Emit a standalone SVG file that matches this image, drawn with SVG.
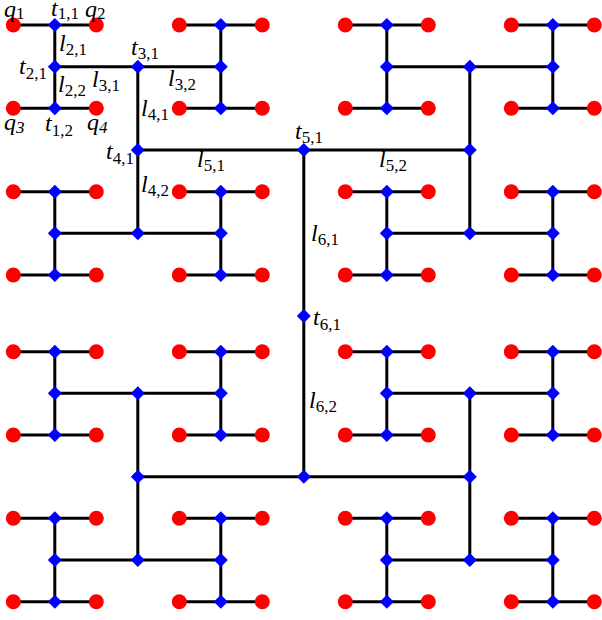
<svg xmlns="http://www.w3.org/2000/svg" xmlns:xlink="http://www.w3.org/1999/xlink" width="602" height="620" viewBox="0 0 602 620">
<style>
.w{fill:none;stroke:#000;stroke-width:3}
.m{font-family:"Liberation Serif","Times New Roman",serif;font-style:italic;font-size:24px;fill:#000}
.s{font-size:17px;font-style:normal}
.si{font-size:17px;font-style:italic}
</style>
<defs>
<circle id="dot" r="7.5" fill="#ff0000"/>
<polygon id="dia" points="0,-7 7,0 0,7 -7,0" fill="#0000ff"/>
</defs>
<rect width="602" height="620" fill="#fff"/>
<g id="connectors">
<path class="w" d="M13.3 25H96.3M179.3 25H262.3M345.3 25H428.3M511.3 25H594.3M13.3 108.3H96.3M179.3 108.3H262.3M345.3 108.3H428.3M511.3 108.3H594.3M13.3 191.7H96.3M179.3 191.7H262.3M345.3 191.7H428.3M511.3 191.7H594.3M13.3 275H96.3M179.3 275H262.3M345.3 275H428.3M511.3 275H594.3M13.3 351.7H96.3M179.3 351.7H262.3M345.3 351.7H428.3M511.3 351.7H594.3M13.3 435H96.3M179.3 435H262.3M345.3 435H428.3M511.3 435H594.3M13.3 518.3H96.3M179.3 518.3H262.3M345.3 518.3H428.3M511.3 518.3H594.3M13.3 601.7H96.3M179.3 601.7H262.3M345.3 601.7H428.3M511.3 601.7H594.3"/>
<path class="w" d="M54.8 25V108.3M220.8 25V108.3M386.8 25V108.3M552.8 25V108.3M54.8 191.7V275M220.8 191.7V275M386.8 191.7V275M552.8 191.7V275M54.8 351.7V435M220.8 351.7V435M386.8 351.7V435M552.8 351.7V435M54.8 518.3V601.7M220.8 518.3V601.7M386.8 518.3V601.7M552.8 518.3V601.7"/>
<path class="w" d="M54.8 66.7H220.8M386.8 66.7H552.8M54.8 233.3H220.8M386.8 233.3H552.8M54.8 393.3H220.8M386.8 393.3H552.8M54.8 560H220.8M386.8 560H552.8"/>
<path class="w" d="M137.8 66.7V233.3M469.8 66.7V233.3M137.8 393.3V560M469.8 393.3V560"/>
<path class="w" d="M137.8 150H469.8M137.8 476.7H469.8"/>
<path class="w" d="M303.8 150V476.7"/>
</g>
<g id="sinks">
<g id="q1"><use xlink:href="#dot" x="13.3" y="25"/></g>
<g id="q2"><use xlink:href="#dot" x="96.3" y="25"/></g>
<g id="d0_2"><use xlink:href="#dot" x="179.3" y="25"/></g>
<g id="d0_3"><use xlink:href="#dot" x="262.3" y="25"/></g>
<g id="d0_4"><use xlink:href="#dot" x="345.3" y="25"/></g>
<g id="d0_5"><use xlink:href="#dot" x="428.3" y="25"/></g>
<g id="d0_6"><use xlink:href="#dot" x="511.3" y="25"/></g>
<g id="d0_7"><use xlink:href="#dot" x="594.3" y="25"/></g>
<g id="q3"><use xlink:href="#dot" x="13.3" y="108.3"/></g>
<g id="q4"><use xlink:href="#dot" x="96.3" y="108.3"/></g>
<g id="d1_2"><use xlink:href="#dot" x="179.3" y="108.3"/></g>
<g id="d1_3"><use xlink:href="#dot" x="262.3" y="108.3"/></g>
<g id="d1_4"><use xlink:href="#dot" x="345.3" y="108.3"/></g>
<g id="d1_5"><use xlink:href="#dot" x="428.3" y="108.3"/></g>
<g id="d1_6"><use xlink:href="#dot" x="511.3" y="108.3"/></g>
<g id="d1_7"><use xlink:href="#dot" x="594.3" y="108.3"/></g>
<g id="d2_0"><use xlink:href="#dot" x="13.3" y="191.7"/></g>
<g id="d2_1"><use xlink:href="#dot" x="96.3" y="191.7"/></g>
<g id="d2_2"><use xlink:href="#dot" x="179.3" y="191.7"/></g>
<g id="d2_3"><use xlink:href="#dot" x="262.3" y="191.7"/></g>
<g id="d2_4"><use xlink:href="#dot" x="345.3" y="191.7"/></g>
<g id="d2_5"><use xlink:href="#dot" x="428.3" y="191.7"/></g>
<g id="d2_6"><use xlink:href="#dot" x="511.3" y="191.7"/></g>
<g id="d2_7"><use xlink:href="#dot" x="594.3" y="191.7"/></g>
<g id="d3_0"><use xlink:href="#dot" x="13.3" y="275"/></g>
<g id="d3_1"><use xlink:href="#dot" x="96.3" y="275"/></g>
<g id="d3_2"><use xlink:href="#dot" x="179.3" y="275"/></g>
<g id="d3_3"><use xlink:href="#dot" x="262.3" y="275"/></g>
<g id="d3_4"><use xlink:href="#dot" x="345.3" y="275"/></g>
<g id="d3_5"><use xlink:href="#dot" x="428.3" y="275"/></g>
<g id="d3_6"><use xlink:href="#dot" x="511.3" y="275"/></g>
<g id="d3_7"><use xlink:href="#dot" x="594.3" y="275"/></g>
<g id="d4_0"><use xlink:href="#dot" x="13.3" y="351.7"/></g>
<g id="d4_1"><use xlink:href="#dot" x="96.3" y="351.7"/></g>
<g id="d4_2"><use xlink:href="#dot" x="179.3" y="351.7"/></g>
<g id="d4_3"><use xlink:href="#dot" x="262.3" y="351.7"/></g>
<g id="d4_4"><use xlink:href="#dot" x="345.3" y="351.7"/></g>
<g id="d4_5"><use xlink:href="#dot" x="428.3" y="351.7"/></g>
<g id="d4_6"><use xlink:href="#dot" x="511.3" y="351.7"/></g>
<g id="d4_7"><use xlink:href="#dot" x="594.3" y="351.7"/></g>
<g id="d5_0"><use xlink:href="#dot" x="13.3" y="435"/></g>
<g id="d5_1"><use xlink:href="#dot" x="96.3" y="435"/></g>
<g id="d5_2"><use xlink:href="#dot" x="179.3" y="435"/></g>
<g id="d5_3"><use xlink:href="#dot" x="262.3" y="435"/></g>
<g id="d5_4"><use xlink:href="#dot" x="345.3" y="435"/></g>
<g id="d5_5"><use xlink:href="#dot" x="428.3" y="435"/></g>
<g id="d5_6"><use xlink:href="#dot" x="511.3" y="435"/></g>
<g id="d5_7"><use xlink:href="#dot" x="594.3" y="435"/></g>
<g id="d6_0"><use xlink:href="#dot" x="13.3" y="518.3"/></g>
<g id="d6_1"><use xlink:href="#dot" x="96.3" y="518.3"/></g>
<g id="d6_2"><use xlink:href="#dot" x="179.3" y="518.3"/></g>
<g id="d6_3"><use xlink:href="#dot" x="262.3" y="518.3"/></g>
<g id="d6_4"><use xlink:href="#dot" x="345.3" y="518.3"/></g>
<g id="d6_5"><use xlink:href="#dot" x="428.3" y="518.3"/></g>
<g id="d6_6"><use xlink:href="#dot" x="511.3" y="518.3"/></g>
<g id="d6_7"><use xlink:href="#dot" x="594.3" y="518.3"/></g>
<g id="d7_0"><use xlink:href="#dot" x="13.3" y="601.7"/></g>
<g id="d7_1"><use xlink:href="#dot" x="96.3" y="601.7"/></g>
<g id="d7_2"><use xlink:href="#dot" x="179.3" y="601.7"/></g>
<g id="d7_3"><use xlink:href="#dot" x="262.3" y="601.7"/></g>
<g id="d7_4"><use xlink:href="#dot" x="345.3" y="601.7"/></g>
<g id="d7_5"><use xlink:href="#dot" x="428.3" y="601.7"/></g>
<g id="d7_6"><use xlink:href="#dot" x="511.3" y="601.7"/></g>
<g id="d7_7"><use xlink:href="#dot" x="594.3" y="601.7"/></g>
</g>
<g id="taps">
<g id="t1_1"><use xlink:href="#dia" x="54.8" y="25"/></g>
<g id="a0_1"><use xlink:href="#dia" x="220.8" y="25"/></g>
<g id="a0_2"><use xlink:href="#dia" x="386.8" y="25"/></g>
<g id="a0_3"><use xlink:href="#dia" x="552.8" y="25"/></g>
<g id="t1_2"><use xlink:href="#dia" x="54.8" y="108.3"/></g>
<g id="a1_1"><use xlink:href="#dia" x="220.8" y="108.3"/></g>
<g id="a1_2"><use xlink:href="#dia" x="386.8" y="108.3"/></g>
<g id="a1_3"><use xlink:href="#dia" x="552.8" y="108.3"/></g>
<g id="a2_0"><use xlink:href="#dia" x="54.8" y="191.7"/></g>
<g id="a2_1"><use xlink:href="#dia" x="220.8" y="191.7"/></g>
<g id="a2_2"><use xlink:href="#dia" x="386.8" y="191.7"/></g>
<g id="a2_3"><use xlink:href="#dia" x="552.8" y="191.7"/></g>
<g id="a3_0"><use xlink:href="#dia" x="54.8" y="275"/></g>
<g id="a3_1"><use xlink:href="#dia" x="220.8" y="275"/></g>
<g id="a3_2"><use xlink:href="#dia" x="386.8" y="275"/></g>
<g id="a3_3"><use xlink:href="#dia" x="552.8" y="275"/></g>
<g id="a4_0"><use xlink:href="#dia" x="54.8" y="351.7"/></g>
<g id="a4_1"><use xlink:href="#dia" x="220.8" y="351.7"/></g>
<g id="a4_2"><use xlink:href="#dia" x="386.8" y="351.7"/></g>
<g id="a4_3"><use xlink:href="#dia" x="552.8" y="351.7"/></g>
<g id="a5_0"><use xlink:href="#dia" x="54.8" y="435"/></g>
<g id="a5_1"><use xlink:href="#dia" x="220.8" y="435"/></g>
<g id="a5_2"><use xlink:href="#dia" x="386.8" y="435"/></g>
<g id="a5_3"><use xlink:href="#dia" x="552.8" y="435"/></g>
<g id="a6_0"><use xlink:href="#dia" x="54.8" y="518.3"/></g>
<g id="a6_1"><use xlink:href="#dia" x="220.8" y="518.3"/></g>
<g id="a6_2"><use xlink:href="#dia" x="386.8" y="518.3"/></g>
<g id="a6_3"><use xlink:href="#dia" x="552.8" y="518.3"/></g>
<g id="a7_0"><use xlink:href="#dia" x="54.8" y="601.7"/></g>
<g id="a7_1"><use xlink:href="#dia" x="220.8" y="601.7"/></g>
<g id="a7_2"><use xlink:href="#dia" x="386.8" y="601.7"/></g>
<g id="a7_3"><use xlink:href="#dia" x="552.8" y="601.7"/></g>
<g id="t2_1"><use xlink:href="#dia" x="54.8" y="66.7"/></g>
<g id="b0_1"><use xlink:href="#dia" x="220.8" y="66.7"/></g>
<g id="b0_2"><use xlink:href="#dia" x="386.8" y="66.7"/></g>
<g id="b0_3"><use xlink:href="#dia" x="552.8" y="66.7"/></g>
<g id="b1_0"><use xlink:href="#dia" x="54.8" y="233.3"/></g>
<g id="b1_1"><use xlink:href="#dia" x="220.8" y="233.3"/></g>
<g id="b1_2"><use xlink:href="#dia" x="386.8" y="233.3"/></g>
<g id="b1_3"><use xlink:href="#dia" x="552.8" y="233.3"/></g>
<g id="b2_0"><use xlink:href="#dia" x="54.8" y="393.3"/></g>
<g id="b2_1"><use xlink:href="#dia" x="220.8" y="393.3"/></g>
<g id="b2_2"><use xlink:href="#dia" x="386.8" y="393.3"/></g>
<g id="b2_3"><use xlink:href="#dia" x="552.8" y="393.3"/></g>
<g id="b3_0"><use xlink:href="#dia" x="54.8" y="560"/></g>
<g id="b3_1"><use xlink:href="#dia" x="220.8" y="560"/></g>
<g id="b3_2"><use xlink:href="#dia" x="386.8" y="560"/></g>
<g id="b3_3"><use xlink:href="#dia" x="552.8" y="560"/></g>
<g id="t3_1"><use xlink:href="#dia" x="137.8" y="66.7"/></g>
<g id="c0_1"><use xlink:href="#dia" x="469.8" y="66.7"/></g>
<g id="c1_0"><use xlink:href="#dia" x="137.8" y="233.3"/></g>
<g id="c1_1"><use xlink:href="#dia" x="469.8" y="233.3"/></g>
<g id="c2_0"><use xlink:href="#dia" x="137.8" y="393.3"/></g>
<g id="c2_1"><use xlink:href="#dia" x="469.8" y="393.3"/></g>
<g id="c3_0"><use xlink:href="#dia" x="137.8" y="560"/></g>
<g id="c3_1"><use xlink:href="#dia" x="469.8" y="560"/></g>
<g id="t4_1"><use xlink:href="#dia" x="137.8" y="150"/></g>
<g id="e0_1"><use xlink:href="#dia" x="469.8" y="150"/></g>
<g id="e1_0"><use xlink:href="#dia" x="137.8" y="476.7"/></g>
<g id="e1_1"><use xlink:href="#dia" x="469.8" y="476.7"/></g>
<g id="t5_1"><use xlink:href="#dia" x="303.8" y="150"/></g>
<g id="f1"><use xlink:href="#dia" x="303.8" y="476.7"/></g>
<g id="t6_1"><use xlink:href="#dia" x="303.8" y="316"/></g>
</g>
<g id="labels" class="m">
<text x="4" y="17">q<tspan class="s" dy="2">1</tspan></text>
<text x="51" y="16">t<tspan class="s" dy="3">1,1</tspan></text>
<text x="85" y="17">q<tspan class="s" dy="2">2</tspan></text>
<text x="59" y="51">l<tspan class="s" dy="4">2,1</tspan></text>
<text x="19" y="74">t<tspan class="s" dy="5">2,1</tspan></text>
<text x="131" y="55">t<tspan class="s" dy="4">3,1</tspan></text>
<text x="92" y="87">l<tspan class="s" dy="4">3,1</tspan></text>
<text x="58" y="92">l<tspan class="s" dy="4">2,2</tspan></text>
<text x="168" y="86">l<tspan class="s" dy="4">3,2</tspan></text>
<text x="141" y="116">l<tspan class="s" dy="4">4,1</tspan></text>
<text x="4" y="130">q<tspan class="si" dy="3">3</tspan></text>
<text x="45" y="131">t<tspan class="s" dy="5">1,2</tspan></text>
<text x="87" y="130">q<tspan class="si" dy="3">4</tspan></text>
<text x="106" y="159">t<tspan class="s" dy="5">4,1</tspan></text>
<text x="197" y="167">l<tspan class="s" dy="4">5,1</tspan></text>
<text x="141" y="192">l<tspan class="s" dy="4">4,2</tspan></text>
<text x="295" y="139">t<tspan class="s" dy="4">5,1</tspan></text>
<text x="379" y="167">l<tspan class="s" dy="4">5,2</tspan></text>
<text x="311" y="241">l<tspan class="s" dy="4">6,1</tspan></text>
<text x="313" y="325">t<tspan class="s" dy="5">6,1</tspan></text>
<text x="309" y="408">l<tspan class="s" dy="4">6,2</tspan></text>
</g>
</svg>
